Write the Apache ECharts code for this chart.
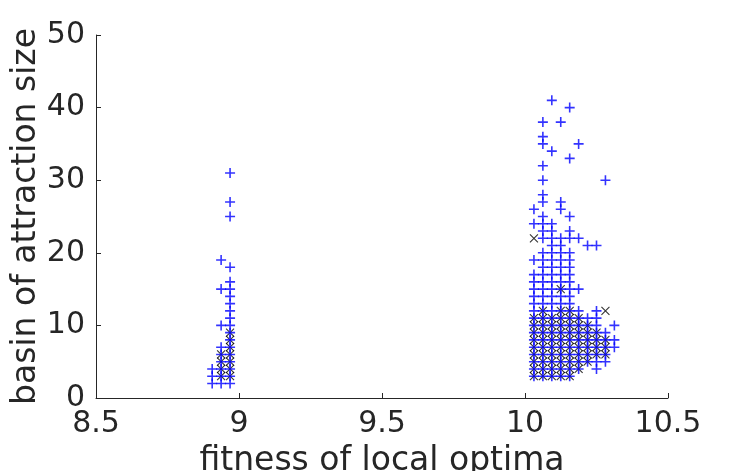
<!DOCTYPE html>
<html>
<head>
<meta charset="utf-8">
<script src="https://cdn.jsdelivr.net/npm/echarts@6/dist/echarts.min.js"></script>
<style>
  html, body { margin: 0; padding: 0; background: #fff; }
  #chart { width: 739px; height: 471px; }
</style>
</head>
<body>
<div id="chart"></div>
<script>
// fitness value of each column of optima
const fitness = [8.90625, 8.9375, 8.96875, 10.03125, 10.0625, 10.09375, 10.125, 10.15625, 10.1875, 10.21875, 10.25, 10.28125, 10.3125]

// basin sizes per column, blue '+'
const blueSizes = [
  [2, 3, 4],
  [2, 3, 4, 5, 6, 7, 10, 15, 19],
  [2, 3, 4, 5, 6, 7, 8, 9, 10, 11, 12, 13, 14, 15, 16, 18, 25, 27, 31],
  [3, 4, 5, 6, 7, 8, 9, 10, 11, 12, 13, 14, 15, 16, 17, 19, 24, 26],
  [3, 4, 5, 6, 7, 8, 9, 10, 11, 12, 13, 14, 15, 16, 17, 18, 19, 20, 22, 23, 24, 25, 27, 28, 30, 32, 35, 36, 38],
  [3, 4, 5, 6, 7, 8, 9, 10, 11, 12, 13, 14, 15, 16, 17, 18, 19, 20, 21, 22, 23, 24, 34, 41],
  [3, 4, 5, 6, 7, 8, 9, 10, 11, 12, 13, 14, 15, 16, 17, 18, 19, 20, 21, 22, 26, 27, 38],
  [3, 4, 5, 6, 7, 8, 9, 10, 11, 12, 13, 14, 15, 16, 17, 18, 19, 20, 22, 23, 25, 33, 40],
  [4, 5, 6, 7, 8, 9, 10, 11, 12, 15, 22, 35],
  [5, 6, 7, 8, 9, 10, 11, 21],
  [4, 5, 6, 7, 8, 9, 10, 11, 12, 21],
  [5, 6, 7, 8, 9, 30],
  [7, 8, 10]
]

// basin sizes per column, black 'x'
const crossSizes = [
  [],
  [3, 4, 5, 6],
  [3, 4, 5, 6, 7, 8, 9],
  [3, 4, 5, 6, 7, 8, 9, 10, 11, 22],
  [3, 4, 5, 6, 7, 8, 9, 10, 11, 12],
  [3, 4, 5, 6, 7, 8, 9, 10, 11],
  [3, 4, 5, 6, 7, 8, 9, 10, 11, 12, 15],
  [3, 4, 5, 6, 7, 8, 9, 10, 11, 12],
  [4, 5, 6, 7, 8, 9, 10, 11],
  [5, 6, 7, 8, 9, 10],
  [6, 7, 8, 9],
  [6, 7, 8, 12],
  []
]

const xTicks = [8.5, 9, 9.5, 10, 10.5]
const yTicks = [0, 10, 20, 30, 40, 50]

const toPoints = (cols) => {
  const pts = []
  cols.forEach((sizes, i) => {
    sizes.forEach(s => pts.push([fitness[i], s]))
  })
  return pts
}

const axisColor = '#262626'
const font = 'DejaVu Sans'

const chart = echarts.init(document.getElementById('chart'), null, { renderer: 'canvas' })

chart.setOption({
  animation: false,
  backgroundColor: '#fff',
  grid: { left: 96, right: 71, top: 35, bottom: 73, outerBoundsMode: 'none', containLabel: false },
  xAxis: {
    type: 'value',
    min: xTicks[0],
    max: xTicks[xTicks.length - 1],
    interval: 0.5,
    name: 'fitness of local optima',
    nameLocation: 'middle',
    nameGap: 47,
    nameMoveOverlap: false,
    nameTextStyle: { fontFamily: font, fontSize: 33, color: axisColor },
    axisLine: { lineStyle: { color: axisColor, width: 1 } },
    axisTick: { inside: true, length: 5, lineStyle: { color: axisColor } },
    axisLabel: { fontFamily: font, fontSize: 30, color: axisColor, margin: 11 },
    splitLine: { show: false }
  },
  yAxis: {
    type: 'value',
    min: yTicks[0],
    max: yTicks[yTicks.length - 1],
    interval: 10,
    name: 'basin of attraction size',
    nameLocation: 'middle',
    nameGap: 53,
    nameMoveOverlap: false,
    nameTextStyle: { fontFamily: font, fontSize: 33, color: axisColor },
    axisLine: { show: true, lineStyle: { color: axisColor, width: 1 } },
    axisTick: { show: true, inside: true, length: 5, lineStyle: { color: axisColor } },
    axisLabel: { fontFamily: font, fontSize: 30, color: axisColor, margin: 11 },
    splitLine: { show: false }
  },
  series: [
    {
      type: 'scatter',
      data: toPoints(crossSizes),
      symbol: 'path://M0,0L10,10M0,10L10,0',
      symbolSize: 8,
      itemStyle: { color: 'none', borderColor: '#000', borderWidth: 1.1 },
      silent: true
    },
    {
      type: 'scatter',
      data: toPoints(blueSizes),
      symbol: 'path://M0,5L10,5M5,0L5,10',
      symbolSize: 10,
      itemStyle: { color: 'none', borderColor: '#0000ff', borderWidth: 1.6 },
      silent: true
    }
  ]
})
</script>
</body>
</html>
